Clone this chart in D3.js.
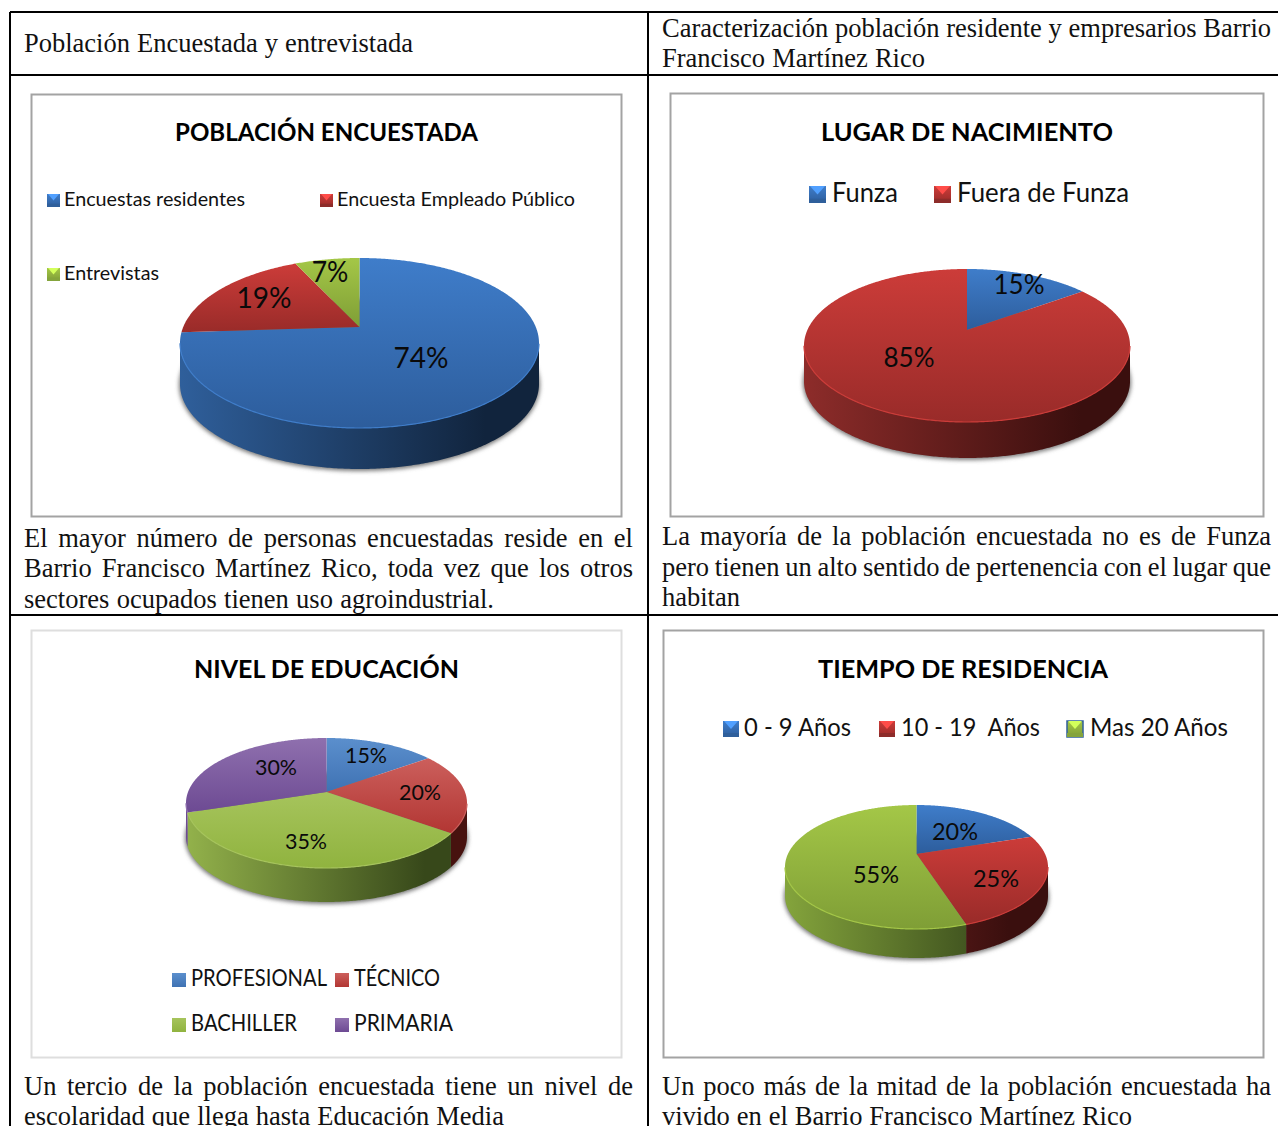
<!DOCTYPE html>
<html>
    <head>
        <meta charset="utf-8">
        <style>
            body { margin: 0; background: #fff; }
            svg { display: block; }
            .caption { font-family: "Liberation Serif", serif; font-size: 26.5px; fill: #111; }
            .title { font-family: Lato, sans-serif; font-weight: 700; font-size: 25px; fill: #000; text-anchor: middle; }
            .legend { font-family: Lato, sans-serif; fill: #111; }
            .pct { font-family: Lato, sans-serif; fill: #0a0a0a; text-anchor: middle; dominant-baseline: central; }
        </style>
        <script src="https://d3js.org/d3.v7.min.js"></script>
    </head>
    <body>
        <svg width="1278" height="1126"></svg>
        <script>
            // values
            var poblacionLabels = ["Encuestas residentes", "Encuesta Empleado Público", "Entrevistas"];
            var poblacionValues = [74, 19, 7];
            var lugarLabels = ["Funza", "Fuera de Funza"];
            var lugarValues = [15, 85];
            var educacionLabels = ["PROFESIONAL", "TÉCNICO", "BACHILLER", "PRIMARIA"];
            var educacionValues = [15, 20, 35, 30];
            var residenciaLabels = ["0 - 9 Años", "10 - 19  Años", "Mas 20 Años"];
            var residenciaValues = [20, 25, 55];

            var blue = { top: "#3f7dca", bottom: "#2d5d9c", wallL: "#2f5f9b", wallR: "#11243d" };
            var red = { top: "#cc3c39", bottom: "#992b29", wallL: "#8d2c2a", wallR: "#3a0f0e" };
            var green = { top: "#a4c747", bottom: "#7f9e36", wallL: "#84a43c", wallR: "#34451a" };
            var softBlue = { top: "#5b8fcd", bottom: "#3f72b3", wallL: "#3f72b3", wallR: "#1d3a60" };
            var softRed = { top: "#cc5f5c", bottom: "#b23633", wallL: "#9a2f2d", wallR: "#47120f" };
            var softGreen = { top: "#a6c45c", bottom: "#90b33f", wallL: "#93b24b", wallR: "#37481a" };
            var softPurple = { top: "#8f70ae", bottom: "#6d4a93", wallL: "#6d4a93", wallR: "#33214a" };

            var charts = [
                {
                    id: "a", title: "POBLACIÓN ENCUESTADA", labels: poblacionLabels, values: poblacionValues, colors: [blue, red, green],
                    frame: [31.5, 94.5, 621.5, 516.5], frameColor: "#a3a3a3", titleX: 326.5, titleY: 141, titleW: 303,
                    cx: 359.5, cy: 327, rx: 179.5, up: 69, down: 101, depth: 41,
                    pctSize: 28, pctW: 55, pctPos: [[421, 357], [264, 297], [330, 271]],
                    legendSize: 19, keySize: 13, bevel: true, keyBorder: [],
                    legend: [[47, 206, 64, 181], [320, 206, 337, 238], [47, 280, 64, 95]]
                },
                {
                    id: "b", title: "LUGAR DE NACIMIENTO", labels: lugarLabels, values: lugarValues, colors: [blue, red],
                    frame: [670.5, 93.5, 1263.5, 516.5], frameColor: "#a3a3a3", titleX: 967, titleY: 141, titleW: 292,
                    cx: 967, cy: 330, rx: 163, up: 61, down: 92, depth: 36,
                    pctSize: 26, pctW: 51, pctPos: [[1019, 284], [909, 357]],
                    legendSize: 26, keySize: 17, bevel: true, keyBorder: [],
                    legend: [[809, 202, 832, 66], [934, 202, 957, 172]]
                },
                {
                    id: "c", title: "NIVEL DE EDUCACIÓN", labels: educacionLabels, values: educacionValues, colors: [softBlue, softRed, softGreen, softPurple],
                    frame: [31.5, 630.5, 621.5, 1057.5], frameColor: "#dedede", titleX: 326.5, titleY: 678, titleW: 265,
                    cx: 326.5, cy: 792, rx: 140.5, up: 54, down: 76, depth: 34,
                    pctSize: 22, pctW: 42, pctPos: [[366, 754], [420, 791], [306, 840], [276, 766]],
                    legendSize: 23, keySize: 14, bevel: false, keyBorder: [],
                    legend: [[172, 986, 191, 136], [335, 986, 354, 86], [172, 1031, 191, 106], [335, 1031, 354, 99]]
                },
                {
                    id: "d", title: "TIEMPO DE RESIDENCIA", labels: residenciaLabels, values: residenciaValues, colors: [blue, red, green],
                    frame: [663.5, 630.5, 1263.5, 1057.5], frameColor: "#a3a3a3", titleX: 963, titleY: 678, titleW: 290,
                    cx: 916.5, cy: 854, rx: 131.5, up: 49, down: 75, depth: 29,
                    pctSize: 24, pctW: 46, pctPos: [[955, 830], [996, 877], [876, 873]],
                    legendSize: 25, keySize: 16, bevel: true, keyBorder: [2],
                    legend: [[723, 736, 744, 107], [879, 736, 901, 139], [1067, 736, 1090, 138]]
                }
            ];

            // text, x, baseline, width to stretch the line to
            var captionLines = [
                ["Población Encuestada y entrevistada", 24, 52, 389],
                ["Caracterización población residente y empresarios Barrio", 662, 37, 609],
                ["Francisco Martínez Rico", 662, 67, 263],
                ["El mayor número de personas encuestadas reside en el", 24, 547, 609],
                ["Barrio Francisco Martínez Rico, toda vez que los otros", 24, 577, 609],
                ["sectores ocupados tienen uso agroindustrial.", 24, 608, 470],
                ["La mayoría de la población encuestada no es de Funza", 662, 545, 609],
                ["pero tienen un alto sentido de pertenencia con el lugar que", 662, 576, 609],
                ["habitan", 662, 606, 79],
                ["Un tercio de la población encuestada tiene un nivel de", 24, 1095, 609],
                ["escolaridad que llega hasta Educación Media", 24, 1125, 480],
                ["Un poco más de la mitad de la población encuestada ha", 662, 1095, 609],
                ["vivido en el Barrio Francisco Martínez Rico", 662, 1125, 470]
            ];

            // table rules: x1, y1, x2, y2
            var tableRules = [
                [10, 12, 1278, 12], [10, 75, 1278, 75], [10, 615, 1278, 615],
                [10, 12, 10, 1126], [648, 12, 648, 1126]
            ];

            var svg = d3.select("svg");
            var defs = svg.append("defs");

            defs.append("filter").attr("id", "blur")
                .attr("x", "-10%").attr("y", "-10%").attr("width", "120%").attr("height", "120%")
                .append("feGaussianBlur").attr("stdDeviation", 2);

            svg.append("g").selectAll("line").data(tableRules).enter().append("line")
                .attr("x1", function(d) { return d[0]; })
                .attr("y1", function(d) { return d[1]; })
                .attr("x2", function(d) { return d[2]; })
                .attr("y2", function(d) { return d[3]; })
                .attr("stroke", "#000")
                .attr("stroke-width", 2);

            // fit each line to its width through the gaps between words
            svg.append("g").selectAll("text").data(captionLines).enter().append("text")
                .attr("class", "caption")
                .attr("x", function(d) { return d[1]; })
                .attr("y", function(d) { return d[2]; })
                .text(function(d) { return d[0]; })
                .each(function(d) {
                    var gaps = d[0].split(" ").length - 1;
                    var extra = d[3] - this.getComputedTextLength();
                    if (gaps > 0) {
                        d3.select(this).attr("word-spacing", extra / gaps);
                    }
                });

            charts.forEach(drawChart);

            // unit disc to screen, the disc seen in perspective so the centre sits above the ellipse middle
            function projector(c) {
                var k = (c.down - c.up) / (c.down + c.up);
                var b = 2 * c.up * c.down / (c.down + c.up);
                var a = c.rx * Math.sqrt(1 - k * k);
                var project = function(angle) {
                    var u = Math.sin(angle), v = Math.cos(angle), w = 1 + k * v;
                    return [c.cx + a * u / w, c.cy - b * v / w];
                };
                project.widestY = c.cy + b * k / (1 - k * k);
                return project;
            }

            function arcPoints(project, start, end) {
                var n = Math.max(2, Math.ceil((end - start) / 0.01));
                return d3.range(n + 1).map(function(i) {
                    return project(start + (end - start) * i / n);
                });
            }

            function drawChart(c) {
                var g = svg.append("g");
                var project = projector(c);
                var line = d3.line();
                var arcs = d3.pie().sort(null)(c.values);

                c.colors.forEach(function(col, i) {
                    var top = defs.append("linearGradient").attr("id", c.id + "top" + i)
                        .attr("x1", 0).attr("y1", 0).attr("x2", 0).attr("y2", 1);
                    top.append("stop").attr("offset", 0).attr("stop-color", col.top);
                    top.append("stop").attr("offset", 1).attr("stop-color", col.bottom);

                    var wall = defs.append("linearGradient").attr("id", c.id + "wall" + i)
                        .attr("gradientUnits", "userSpaceOnUse")
                        .attr("x1", c.cx - c.rx).attr("y1", 0).attr("x2", c.cx + c.rx * 0.7).attr("y2", 0);
                    wall.append("stop").attr("offset", 0).attr("stop-color", col.wallL);
                    wall.append("stop").attr("offset", 1).attr("stop-color", col.wallR);
                });

                g.append("rect")
                    .attr("x", c.frame[0]).attr("y", c.frame[1])
                    .attr("width", c.frame[2] - c.frame[0]).attr("height", c.frame[3] - c.frame[1])
                    .attr("fill", "#fff").attr("stroke", c.frameColor).attr("stroke-width", 2);

                g.append("text").attr("class", "title")
                    .attr("x", c.titleX).attr("y", c.titleY)
                    .attr("textLength", c.titleW).attr("lengthAdjust", "spacingAndGlyphs")
                    .text(c.title);

                // soft shadow under the pie
                g.append("path")
                    .attr("d", line(arcPoints(project, 0, 2 * Math.PI)) + "Z")
                    .attr("transform", "translate(0," + (c.depth + 1) + ") ")
                    .attr("fill", "#777")
                    .attr("stroke", "#777")
                    .attr("stroke-width", 2)
                    .attr("filter", "url(#blur)");

                // outer wall, front half only
                g.append("g").selectAll("path").data(arcs).enter().append("path")
                    .attr("d", function(d) {
                        var rim = arcPoints(project, d.startAngle, d.endAngle).filter(function(p) {
                            return p[1] >= project.widestY;
                        });
                        if (!rim.length) {
                            return null;
                        }
                        var low = rim.map(function(p) { return [p[0], p[1] + c.depth]; }).reverse();
                        return line(rim.concat(low)) + "Z";
                    })
                    .attr("fill", function(d, i) { return "url(#" + c.id + "wall" + i + ")"; });

                // top face
                g.append("g").selectAll("path").data(arcs).enter().append("path")
                    .attr("d", function(d) {
                        return line([[c.cx, c.cy]].concat(arcPoints(project, d.startAngle, d.endAngle))) + "Z";
                    })
                    .attr("fill", function(d, i) { return "url(#" + c.id + "top" + i + ")"; });

                // light edge along the front of the top face
                g.append("g").selectAll("path").data(arcs).enter().append("path")
                    .attr("d", function(d) {
                        var rim = arcPoints(project, d.startAngle, d.endAngle).filter(function(p) {
                            return p[1] >= project.widestY;
                        });
                        return rim.length ? line(rim) : null;
                    })
                    .attr("fill", "none")
                    .attr("stroke", function(d, i) { return c.colors[i].top; })
                    .attr("stroke-width", 1.2);

                g.append("g").selectAll("text").data(arcs).enter().append("text")
                    .attr("class", "pct")
                    .attr("x", function(d, i) { return c.pctPos[i][0]; })
                    .attr("y", function(d, i) { return c.pctPos[i][1]; })
                    .attr("font-size", c.pctSize)
                    .attr("textLength", function(d) { return c.pctW * (String(d.value).length + 1) / 3; })
                    .attr("lengthAdjust", "spacingAndGlyphs")
                    .text(function(d) { return d.value + "%"; });

                var items = g.append("g").selectAll("g").data(c.labels).enter().append("g");

                items.append("rect")
                    .attr("x", function(d, i) { return c.legend[i][0]; })
                    .attr("y", function(d, i) { return c.legend[i][1] - c.keySize + 1; })
                    .attr("width", c.keySize)
                    .attr("height", c.keySize)
                    .attr("fill", function(d, i) { return "url(#" + c.id + "top" + i + ")"; })
                    .attr("stroke", function(d, i) { return c.keyBorder.indexOf(i) >= 0 ? "#2f5f9b" : "none"; })
                    .attr("stroke-width", 1.5);

                if (c.bevel) {
                    items.append("path")
                        .attr("d", function(d, i) {
                            var x = c.legend[i][0], y = c.legend[i][1] - c.keySize + 1, s = c.keySize;
                            return line([[x + 1, y], [x + s - 1, y], [x + s / 2, y + s * 0.5]]) + "Z";
                        })
                        .attr("fill", function(d, i) { return d3.color(c.colors[i].top).brighter(0.7); });
                    items.append("rect")
                        .attr("x", function(d, i) { return c.legend[i][0]; })
                        .attr("y", function(d, i) { return c.legend[i][1] + 1 - c.keySize * 0.25; })
                        .attr("width", c.keySize)
                        .attr("height", c.keySize * 0.25)
                        .attr("fill", function(d, i) { return c.colors[i].wallL; });
                }

                items.append("text").attr("class", "legend")
                    .attr("x", function(d, i) { return c.legend[i][2]; })
                    .attr("y", function(d, i) { return c.legend[i][1]; })
                    .attr("font-size", c.legendSize)
                    .attr("textLength", function(d, i) { return c.legend[i][3]; })
                    .attr("lengthAdjust", "spacingAndGlyphs")
                    .attr("xml:space", "preserve")
                    .text(function(d) { return d; });
            }
        </script>
    </body>
</html>
